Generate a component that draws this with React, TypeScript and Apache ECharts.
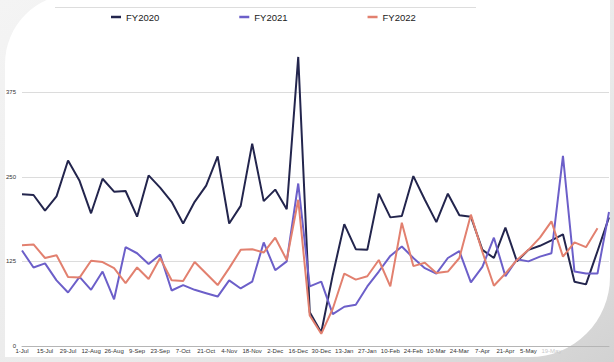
import React, { useEffect, useRef } from "react";
import * as echarts from "echarts";

const categories = [
  "1-Jul", "8-Jul", "15-Jul", "22-Jul", "29-Jul", "5-Aug", "12-Aug", "19-Aug", "26-Aug",
  "2-Sep", "9-Sep", "16-Sep", "23-Sep", "30-Sep", "7-Oct", "14-Oct", "21-Oct", "28-Oct",
  "4-Nov", "11-Nov", "18-Nov", "25-Nov", "2-Dec", "9-Dec", "16-Dec", "23-Dec", "30-Dec",
  "6-Jan", "13-Jan", "20-Jan", "27-Jan", "3-Feb", "10-Feb", "17-Feb", "24-Feb", "3-Mar",
  "10-Mar", "17-Mar", "24-Mar", "31-Mar", "7-Apr", "14-Apr", "21-Apr", "28-Apr", "5-May",
  "12-May", "19-May", "26-May", "2-Jun", "9-Jun", "16-Jun", "23-Jun",
];

const fy2020 = [
  224, 223, 200, 221, 274, 244, 196, 247, 228, 229, 191, 252, 234, 213, 181, 213, 237, 280,
  181, 207, 299, 214, 231, 202, 427, 50, 20, 105, 180, 143, 142, 225, 190, 192, 251, 216,
  183, 225, 193, 191, 142, 130, 175, 125, 142, 148, 156, 165, 95, 91, 140, 190,
];

const fy2021 = [
  141, 116, 122, 97, 79, 102, 83, 110, 69, 146, 137, 121, 135, 82, 90, 83, 78, 73, 97, 85,
  95, 153, 112, 125, 240, 88, 95, 47, 58, 61, 88, 110, 133, 147, 130, 115, 107, 130, 140, 94,
  117, 160, 103, 128, 125, 132, 137, 281, 110, 107, 107, 198,
];

const fy2022 = [
  149, 150, 130, 134, 102, 101, 126, 124, 115, 93, 116, 99, 130, 97, 96, 124, 107, 90, 115,
  142, 143, 138, 160, 127, 216, 45, 18, 55, 107, 98, 103, 127, 88, 182, 118, 123, 108, 110,
  130, 194, 139, 89, 107, 127, 142, 160, 184, 132, 153, 146, 174, null,
];

const seriesNames = ["FY2020", "FY2021", "FY2022"];
const seriesColors = ["#23254d", "#6c5fc9", "#e2806f"];
const yTicks = [0, 125, 250, 375, 500];

export default function App() {
  const ref = useRef<HTMLDivElement>(null);

  useEffect(() => {
    if (!ref.current) return;
    const chart = echarts.init(ref.current, null, { renderer: "svg" });
    const font = "Liberation Sans, Arial, Helvetica, sans-serif";
    const dataSets = [fy2020, fy2021, fy2022];
    chart.setOption({
      animation: false,
      textStyle: { fontFamily: font },
      graphic: [
        {
          type: "rect",
          z: -2,
          silent: true,
          shape: { x: 0, y: 0, width: 614, height: 362 },
          style: {
            fill: new echarts.graphic.LinearGradient(0, 0, 1, 1, [
              { offset: 0, color: "#f4f4f4" },
              { offset: 0.6, color: "#eaeaea" },
              { offset: 1, color: "#d2d2d2" },
            ]),
          },
        },
        {
          type: "rect",
          z: -1,
          silent: true,
          shape: { x: 5, y: -6, width: 605, height: 363, r: [70, 0, 80, 0] },
          style: { fill: "#ffffff" },
        },
        {
          type: "line",
          z: 1,
          silent: true,
          shape: { x1: 55, y1: 7.5, x2: 476, y2: 7.5 },
          style: { stroke: "#dddddd", lineWidth: 1 },
        },
      ],
      legend: {
        data: seriesNames,
        left: 106,
        top: 7,
        itemGap: 80,
        itemWidth: 10,
        itemHeight: 2.5,
        icon: "rect",
        textStyle: { fontSize: 9.5, color: "#1a1a1a", fontFamily: font },
      },
      grid: { left: 22, right: 5, top: 7.5, bottom: 16, containLabel: false },
      xAxis: {
        type: "category",
        data: categories,
        boundaryGap: false,
        axisLine: { lineStyle: { color: "#b5b5b5", width: 1 } },
        axisTick: { show: false },
        splitLine: { show: false },
        axisLabel: {
          interval: (index: number) => index % 2 === 0 && index <= 46,
          margin: 2,
          fontSize: 6,
          color: "#333333",
          formatter: (v: string, i: number) => (i === 46 ? "{f|" + v + "}" : v),
          rich: { f: { color: "#c9c9c9", fontSize: 6 } },
        },
      },
      yAxis: {
        type: "value",
        min: yTicks[0],
        max: yTicks[yTicks.length - 1],
        interval: 125,
        axisLine: { show: false },
        axisTick: { show: false },
        axisLabel: {
          fontSize: 6,
          color: "#333333",
          margin: 6,
          formatter: (v: number) => (v === 500 ? "" : String(v)),
        },
        splitLine: {
          lineStyle: {
            color: ["#dcdcdc", "#dcdcdc", "#dcdcdc", "#dcdcdc", "rgba(0,0,0,0)"],
            width: 1,
          },
        },
      },
      series: seriesNames.map((name, i) => ({
        name,
        type: "line",
        data: dataSets[i],
        symbol: "none",
        showSymbol: false,
        connectNulls: false,
        color: seriesColors[i],
        lineStyle: { color: seriesColors[i], width: 2 },
      })),
    });
    return () => chart.dispose();
  }, []);

  return (
    <div
      ref={ref}
      style={{ position: "absolute", left: 0, top: 0, width: 614, height: 362 }}
    />
  );
}
